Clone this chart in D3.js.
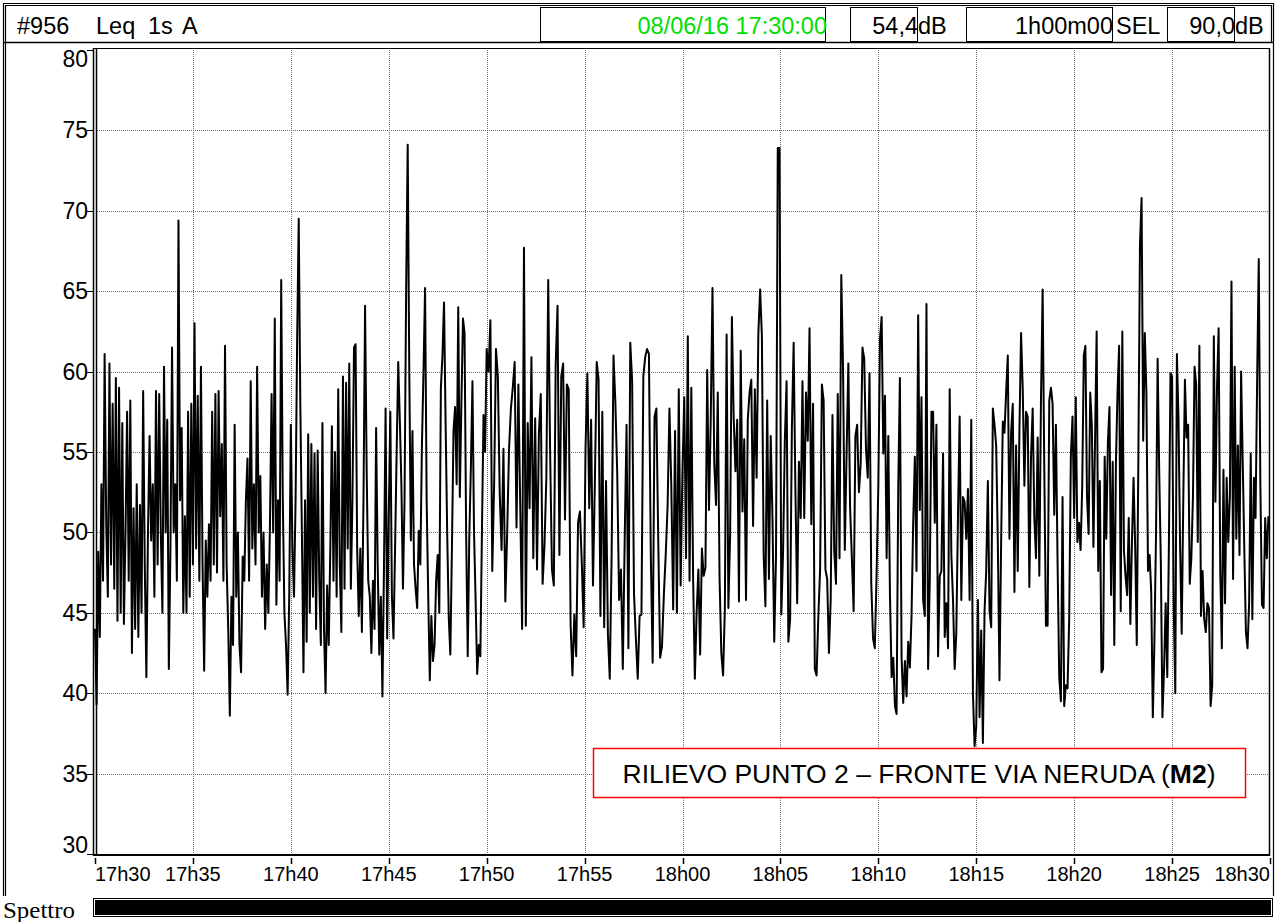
<!DOCTYPE html>
<html>
<head>
<meta charset="utf-8">
<script src="https://cdn.jsdelivr.net/npm/d3@7"></script>
<style>
body { margin: 0; background: #fff; }
svg text { font-family: Arial, "Liberation Sans", sans-serif; fill: #000; }
</style>
</head>
<body>
<div id="chart"></div>
<script>
// Leq 1s A, one array per 10 minutes (values in dB)
var block1 = [44, 39.3, 48.8, 43.5, 53, 47, 61.1, 50.5, 46, 60.5,
  48, 58, 46.5, 59.6, 44.5, 59, 45, 56.8, 44.3, 50,
  57.5, 47, 58.2, 42.5, 51.5, 44, 53, 43.5, 51.7, 45,
  58.8, 48, 41, 50, 56, 49.5, 53, 46, 58.8, 48,
  58.6, 50, 45, 60.3, 50, 57, 41.5, 49, 61.5, 50,
  53, 47, 69.4, 52, 56.5, 45, 51, 45, 57.5, 46,
  58, 48, 63, 49, 58.5, 47, 60.3, 48, 41.4, 49.5,
  46, 50.5, 47, 57.5, 48, 58.6, 47.5, 58.8, 51, 55.5,
  47, 61.6, 48, 44, 38.6, 46, 43, 56.7, 46, 50,
  43, 41.3, 48.5, 47, 52, 54.6, 47, 59.4, 49, 53,
  48, 60.3, 50, 53.5, 46, 50, 44, 48, 45, 50.5,
  58.6, 50, 63.3, 45.5, 52, 47, 65.7, 52, 45, 43,
  39.9, 46];
var block2 = [56.7, 49, 46, 52, 62, 69.5, 58, 50, 41.3, 52,
  43.2, 56.1, 45, 55.5, 46, 54.9, 44, 55.1, 47, 43,
  56.8, 44, 40, 46.7, 43, 49, 56.6, 47, 55, 46,
  58.9, 48, 43.8, 59.7, 46.5, 59.3, 49, 60.5, 46.5, 52,
  61.5, 61.7, 49, 44.8, 49, 43.8, 52, 64.1, 54, 47,
  46, 42.5, 47, 44, 56.5, 48, 42.4, 46, 39.8, 48,
  57.7, 43.4, 51, 57.5, 46, 43.4, 49, 55, 60.6, 57,
  53, 46.5, 52, 65, 74.1, 60, 49.5, 56.3, 48, 46.5,
  45.3, 50.1, 48, 55.4, 60, 65.2, 52, 46, 40.8, 44.8,
  42, 43, 47, 48.6, 45, 59, 61, 64.3, 56.8, 50,
  44.7, 42.4, 49, 56.3, 57.8, 53, 64, 52.2, 58, 63.3,
  62.4, 50, 42.3, 49.7, 54, 59.4, 50, 45.8, 41.2, 43,
  42.3, 50, 57.3, 55];
var block3 = [61.4, 60, 63.2, 47.6, 53, 61.4, 59.7, 52.4, 48.9, 55.2,
  45.7, 50, 55.2, 57.7, 59, 60.6, 50.3, 59.2, 51.6, 44,
  67.7, 44.2, 56.8, 51.5, 60.9, 48.4, 57.1, 47.7, 56.1, 58.6,
  46.8, 49.2, 53.4, 65.7, 55.2, 47.7, 46.7, 60.4, 64.1, 48.6,
  59.7, 60.5, 50.8, 59.2, 58.9, 44.3, 41.1, 44.9, 42.3, 50.6,
  51.3, 48.1, 44.1, 55.2, 59.9, 51.5, 57, 46.7, 53, 60.6,
  59.5, 44.8, 57.5, 44.1, 53.2, 43.7, 40.9, 48.6, 61, 58.1,
  53.7, 45.8, 47.7, 41.5, 49.5, 56.7, 42.8, 61.8, 59.4, 46.2,
  43.4, 40.9, 44.8, 44.9, 59.7, 60.9, 61.4, 61.1, 48.6, 41.9,
  57.2, 57.7, 49.5, 42.2, 42.9, 46.1, 48.6, 51.6, 57.7, 52.9,
  45.2, 56.3, 45, 58.9, 46.7];
var block4 = [53.9, 58.4, 48.4, 62.2, 47, 59, 47.3, 40.9, 45, 47.7,
  42.4, 49, 47.3, 47.8, 60.1, 51.4, 57, 65.2, 54.3, 51.7,
  58.7, 47.2, 42.5, 41.1, 45.2, 62.3, 45.3, 49.9, 63.4, 57.2,
  53.8, 57, 45.7, 61.3, 51.3, 55.8, 45.8, 57, 58.7, 59.5,
  50.4, 58.9, 53.4, 62.4, 65.1, 62.2, 48.6, 45.4, 58.2, 47.1,
  56, 50.9, 43.2, 48.5, 73.9, 73.9, 44.9, 48.8, 55.7, 59.4,
  43.2, 44.6, 56.5, 61.8, 52.6, 45.6, 54.4, 50.9, 59.4, 50.9,
  58.7, 55.7, 62.7, 50.5, 58, 41.5, 41.1, 44.8, 47.7, 59.2,
  58.2, 47.7, 47.1, 42.5, 45.8, 57.3, 48.9, 46.8, 58.6, 48.4,
  66, 60.2, 48.9, 54.9, 60.5, 51.5, 48.4, 45.1, 56, 56.7,
  52.5, 54.3, 61.5, 60.8, 55.2, 53.4, 59.9, 46.8, 43.4, 42.8,
  47.3];
var block5 = [52.9, 62, 63.4, 54.9, 58.5, 48.4, 56, 46.1, 41, 42.2,
  39.2, 38.7, 52.8, 59.6, 42.2, 39.4, 42, 39.8, 43.2, 41.6,
  44.8, 50.6, 54.7, 47.6, 63.5, 51.4, 58.4, 45.8, 44.8, 64.2,
  41.5, 47.1, 57.5, 57.5, 50.6, 56.7, 42.3, 47.3, 47.6, 54.9,
  43.5, 45.6, 42.8, 58.9, 48.6, 45.8, 41.5, 43.8, 51.1, 57.2,
  45.8, 52.2, 51.9, 49.6, 52.7, 45.8, 57, 40, 36.7, 38,
  45.8, 38.5, 43.9, 36.9, 45.1, 47.6, 53.2, 45.1, 44.1, 57.7,
  56.7, 55.4, 49.4, 40.8, 49.4, 56.9, 56.2, 58.7, 61, 49.6,
  56.2, 58, 46.3, 55.4, 47.6, 56.2, 62.4, 59, 52.9, 57.5,
  57.2, 46.6, 54.7, 57.7, 50.9, 48.4, 55.9, 47.3, 58.2, 65.1,
  53.9, 44.2, 44.2, 58.2, 59, 58, 51.1, 56.7, 48.1, 41,
  39.5, 52.2, 39.2, 40.5, 40.3, 44.6, 54.7, 57.2];
var block6 = [50.9, 58.4, 49.4, 50.6, 48.9, 52.8, 61, 61.6, 52.2, 49.9,
  58.7, 56.7, 49.1, 55.7, 62.5, 47.6, 53.2, 41.3, 41.5, 54.7,
  49.6, 55.6, 57.8, 46.1, 54.4, 43, 54.2, 58.7, 61.6, 45.1,
  62.5, 48.9, 47.3, 46.1, 50.9, 44.3, 49.4, 53.4, 49.1, 43,
  54.7, 67.9, 70.8, 55.7, 62.4, 58.7, 47.6, 48.6, 46.3, 38.5,
  43.3, 49.9, 60.8, 53.7, 48.1, 38.5, 41.5, 45.6, 41, 49.1,
  59.9, 59.7, 45.6, 40, 61.1, 57, 49.1, 43.7, 52.2, 59.5,
  55.9, 56.7, 46.8, 48.4, 52.2, 60.3, 59.2, 49.4, 61.6, 44.8,
  47.6, 44.6, 43.8, 45.6, 45.3, 39.2, 40.5, 62.2, 51.9, 59.1,
  62.7, 47.6, 42.8, 53.9, 45.6, 53.4, 49.4, 52.2, 65.6, 47.1,
  60.3, 49.6, 55.4, 48.6, 60, 54.4, 48.9, 43.8, 42.8, 45.6,
  54.9, 44.6, 53.4, 50.9, 59.6, 67, 52.9, 45.5, 45.3, 50.9,
  48.4, 51];
var blocks = [block1, block2, block3, block4, block5, block6];

var yTicks = [30, 35, 40, 45, 50, 55, 60, 65, 70, 75, 80];
var xTickLabels = ["17h30", "17h35", "17h40", "17h45", "17h50", "17h55",
  "18h00", "18h05", "18h10", "18h15", "18h20", "18h25", "18h30"];

// header texts
var headerLeft = ["#956", "Leq", "1s", "A"];
var startStamp = "08/06/16 17:30:00";
var leqTotal = "54,4";
var duration = "1h00m00";
var selValue = "90,0";
var caption = "RILIEVO PUNTO 2 \u2013 FRONTE VIA NERUDA (";
var captionBold = "M2";

var W = 1277, H = 922;
var t0 = new Date(2016, 5, 8, 17, 30, 0);
var t1 = new Date(2016, 5, 8, 18, 30, 0);
var plotTop = 48, plotBottom = 854;

var svg = d3.select("#chart").append("svg")
  .attr("width", W)
  .attr("height", H);

var x = d3.scaleTime().domain([t0, t1]).range([95, 1270]);
var y = d3.scaleLinear().domain([30, 80]).range([854, 50]);

// build the time series from the 10 minute blocks
var series = [];
blocks.forEach(function(b, k) {
  var step = 600 / b.length;
  b.forEach(function(v, i) {
    series.push({ t: new Date(t0.getTime() + (k * 600 + i * step) * 1000), v: v });
  });
});

// outer frame (no bottom edge)
svg.append("path")
  .attr("d", "M3.5,896V3.5H1273.5V896")
  .attr("fill", "none").attr("stroke", "#000").attr("stroke-width", 1.2);
svg.append("path")
  .attr("d", "M5.5,896V5.5H1271.5V42")
  .attr("fill", "none").attr("stroke", "#000").attr("stroke-width", 1.2);
svg.append("line")
  .attr("x1", 4).attr("x2", 1273).attr("y1", 42.5).attr("y2", 42.5)
  .attr("stroke", "#000").attr("stroke-width", 1.5);

// header boxes
var boxes = [[540, 825], [850, 917], [966, 1112], [1167, 1234]];
svg.selectAll("rect.hbox")
  .data(boxes)
  .enter()
  .append("rect")
  .attr("class", "hbox")
  .attr("x", function(d) { return d[0] + 0.5; })
  .attr("y", 7.5)
  .attr("width", function(d) { return d[1] - d[0]; })
  .attr("height", 34)
  .attr("fill", "none")
  .attr("stroke", "#000");

var hdr = svg.append("g").style("font-size", "23.5px");
var hx = [17, 96, 148, 182];
headerLeft.forEach(function(s, i) {
  hdr.append("text").attr("x", hx[i]).attr("y", 34).text(s);
});
hdr.append("text").attr("x", 827).attr("y", 34).attr("text-anchor", "end")
  .style("fill", "#00e000").text(startStamp);
hdr.append("text").attr("x", 918).attr("y", 34).attr("text-anchor", "end").text(leqTotal);
hdr.append("text").attr("x", 918).attr("y", 34).text("dB");
hdr.append("text").attr("x", 1113).attr("y", 34).attr("text-anchor", "end").text(duration);
hdr.append("text").attr("x", 1116).attr("y", 34).text("SEL");
hdr.append("text").attr("x", 1235).attr("y", 34).attr("text-anchor", "end").text(selValue);
hdr.append("text").attr("x", 1235).attr("y", 34).text("dB");

// grid
var xTickDates = xTickLabels.map(function(d, i) {
  return new Date(t0.getTime() + i * 300000);
});
var grid = svg.append("g").attr("stroke", "#707070").attr("stroke-width", 1)
  .attr("stroke-dasharray", "1,1");
grid.selectAll("line.h")
  .data(yTicks.filter(function(d) { return d > 30 && d < 80; }))
  .enter()
  .append("line")
  .attr("x1", 97).attr("x2", 1269)
  .attr("y1", function(d) { return Math.round(y(d)) + 0.5; })
  .attr("y2", function(d) { return Math.round(y(d)) + 0.5; });
grid.selectAll("line.v")
  .data(xTickDates.slice(1, -1))
  .enter()
  .append("line")
  .attr("x1", function(d) { return Math.round(x(d)) + 0.5; })
  .attr("x2", function(d) { return Math.round(x(d)) + 0.5; })
  .attr("y1", plotTop).attr("y2", plotBottom);

// data line
var line = d3.line()
  .x(function(d) { return x(d.t); })
  .y(function(d) { return y(d.v); });
svg.append("path")
  .datum(series)
  .attr("d", line)
  .attr("fill", "none")
  .attr("stroke", "#000")
  .attr("stroke-width", 2)
  .attr("stroke-linejoin", "round");

// plot frame
svg.append("line").attr("x1", 93).attr("x2", 1270).attr("y1", 48.5).attr("y2", 48.5)
  .attr("stroke", "#000");
svg.append("line").attr("x1", 93.5).attr("x2", 93.5).attr("y1", 48).attr("y2", 856)
  .attr("stroke", "#000").attr("stroke-width", 1.5);
svg.append("line").attr("x1", 96.5).attr("x2", 96.5).attr("y1", 48).attr("y2", 856)
  .attr("stroke", "#000").attr("stroke-width", 1.5);
svg.append("line").attr("x1", 1269.5).attr("x2", 1269.5).attr("y1", 48).attr("y2", 856)
  .attr("stroke", "#000").attr("stroke-width", 1.5);
svg.append("line").attr("x1", 93).attr("x2", 1270).attr("y1", 855).attr("y2", 855)
  .attr("stroke", "#000").attr("stroke-width", 2);

// y axis ticks and labels
var yAx = svg.append("g").style("font-size", "23px");
yAx.selectAll("line")
  .data(yTicks)
  .enter()
  .append("line")
  .attr("x1", 87).attr("x2", 93)
  .attr("y1", function(d) { return Math.round(y(d)) + 0.5; })
  .attr("y2", function(d) { return Math.round(y(d)) + 0.5; })
  .attr("stroke", "#000");
yAx.selectAll("text")
  .data(yTicks)
  .enter()
  .append("text")
  .attr("x", 88)
  .attr("y", function(d) {
    if (d == 80) return y(d) + 17;
    if (d == 30) return y(d) - 1;
    return y(d) + 8;
  })
  .attr("text-anchor", "end")
  .text(function(d) { return d; });

// x axis ticks and labels
var xAx = svg.append("g").style("font-size", "20px");
xAx.selectAll("line")
  .data(xTickDates)
  .enter()
  .append("line")
  .attr("x1", function(d) { return Math.round(x(d)) + 0.5; })
  .attr("x2", function(d) { return Math.round(x(d)) + 0.5; })
  .attr("y1", 858).attr("y2", 864)
  .attr("stroke", "#000").attr("stroke-width", 1.5);
xAx.selectAll("text")
  .data(xTickLabels)
  .enter()
  .append("text")
  .attr("x", function(d, i) { return x(xTickDates[i]); })
  .attr("y", 881)
  .attr("text-anchor", function(d, i) {
    if (i == 0) return "start";
    if (i == xTickLabels.length - 1) return "end";
    return "middle";
  })
  .text(function(d) { return d; });

// caption box
svg.append("rect")
  .attr("x", 593.5).attr("y", 748.5).attr("width", 652).attr("height", 49)
  .attr("fill", "#fff").attr("stroke", "#ff0000").attr("stroke-width", 1.5);
var cap = svg.append("text")
  .attr("x", 919).attr("y", 783)
  .attr("text-anchor", "middle")
  .style("font-size", "26.5px");
cap.append("tspan").text(caption);
cap.append("tspan").style("font-weight", "bold").text(captionBold);
cap.append("tspan").text(")");

// spectrum strip
svg.append("text")
  .attr("x", 3).attr("y", 918)
  .attr("textLength", 72)
  .attr("lengthAdjust", "spacingAndGlyphs")
  .style("font-family", "'Liberation Serif', 'Times New Roman', serif")
  .style("font-size", "23px")
  .text("Spettro");
svg.append("rect")
  .attr("x", 93.5).attr("y", 898.5).attr("width", 1179).attr("height", 18)
  .attr("fill", "#fff").attr("stroke", "#000");
svg.append("rect")
  .attr("x", 95).attr("y", 900).attr("width", 1176).attr("height", 15)
  .attr("fill", "#000");
</script>
</body>
</html>
